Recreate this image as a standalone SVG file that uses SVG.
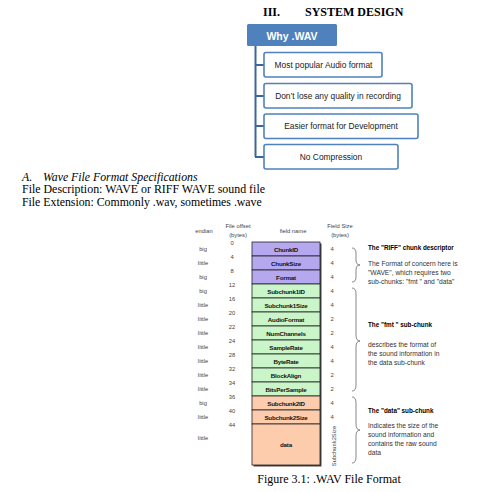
<svg xmlns="http://www.w3.org/2000/svg" width="485" height="492" viewBox="0 0 485 492">
<style>
.serif{font-family:"Liberation Serif","Times New Roman",serif;fill:#000}
.hd{font-family:"Liberation Serif",serif;font-weight:bold;font-size:12px}
.item{fill:#fff;stroke:#4f81bd;stroke-width:1.6}
.itxt{font-family:"Liberation Sans",Arial,sans-serif;font-size:8.4px;fill:#222;text-anchor:middle;dominant-baseline:central}
.small{font-family:"Liberation Sans",Arial,sans-serif;font-size:5.8px;fill:#444;dominant-baseline:central}
.fld{font-family:"Liberation Sans",Arial,sans-serif;font-size:6.2px;font-weight:bold;fill:#111;text-anchor:middle;dominant-baseline:central;letter-spacing:-0.2px}
.desc{font-family:"Liberation Sans",Arial,sans-serif;font-size:6.7px;fill:#333}
.dt{font-family:"Liberation Sans",Arial,sans-serif;font-size:6.3px;font-weight:bold;fill:#000}
.p{fill:#b6a8ef}.g{fill:#c9f5c9}.o{fill:#fcccad}
.cell{stroke:#222;stroke-width:0.8}
.brace{fill:none;stroke:#555;stroke-width:0.7}
.c{text-anchor:middle}
.sp{font-size:11.8px}
</style>

<g id="title">
<text class="hd" x="263" y="16">III.</text>
<text class="hd" x="305" y="16">SYSTEM DESIGN</text>
</g>

<g id="connectors">
<path d="M255.5,45 V157 M255,65 H264 M255,96 H264 M255,126 H264 M255,157 H264" fill="none" stroke="#3d679c" stroke-width="2"/>
</g>

<g id="why">
<rect x="247" y="24" width="90" height="22" rx="1.5" fill="#4f81bd"/>
<text x="292" y="35.5" font-family="Liberation Sans,Arial,sans-serif" font-size="10.5" font-weight="bold" fill="#fff" text-anchor="middle" dominant-baseline="central">Why .WAV</text>
</g>
<g id="item1"><rect class="item" x="264" y="52.5" width="118" height="24.5" rx="2"/><text class="itxt" x="323.5" y="65">Most popular Audio format</text></g>
<g id="item2"><rect class="item" x="264" y="83.5" width="148" height="24.5" rx="2"/><text class="itxt" x="338" y="96">Don’t lose any quality in recording</text></g>
<g id="item3"><rect class="item" x="264" y="114" width="154" height="24.5" rx="2"/><text class="itxt" x="341" y="126">Easier format for Development</text></g>
<g id="item4"><rect class="item" x="264" y="144.5" width="134" height="24.5" rx="2"/><text class="itxt" x="331" y="157">No Compression</text></g>

<g id="spec">
<text class="serif sp" x="22" y="180.5" font-style="italic">A.</text>
<text class="serif sp" x="43" y="180.5" font-style="italic">Wave File Format Specifications</text>
<text class="serif sp" x="22" y="193" textLength="243" lengthAdjust="spacingAndGlyphs">File Description: WAVE or RIFF WAVE sound file</text>
<text class="serif sp" x="22" y="205.5">File Extension: Commonly .wav, sometimes .wave</text>
</g>

<g id="headers">
<text class="small c" x="204" y="231">endian</text>
<text class="small c" x="238" y="226">File offset</text>
<text class="small c" x="238" y="235">(bytes)</text>
<text class="small c" x="293" y="231">field name</text>
<text class="small c" x="340" y="226">Field Size</text>
<text class="small c" x="340" y="235">(bytes)</text>
</g>

<g id="table">
<rect x="253.5" y="243.5" width="68" height="223" fill="#444"/>
<rect class="cell p" x="252" y="242" width="68" height="14"/>
<rect class="cell p" x="252" y="256" width="68" height="14"/>
<rect class="cell p" x="252" y="270" width="68" height="14"/>
<rect class="cell g" x="252" y="284" width="68" height="14"/>
<rect class="cell g" x="252" y="298" width="68" height="14"/>
<rect class="cell g" x="252" y="312" width="68" height="14"/>
<rect class="cell g" x="252" y="326" width="68" height="14"/>
<rect class="cell g" x="252" y="340" width="68" height="14"/>
<rect class="cell g" x="252" y="354" width="68" height="14"/>
<rect class="cell g" x="252" y="368" width="68" height="14"/>
<rect class="cell g" x="252" y="382" width="68" height="14"/>
<rect class="cell o" x="252" y="396" width="68" height="14"/>
<rect class="cell o" x="252" y="410" width="68" height="14"/>
<rect class="cell o" x="252" y="424" width="68" height="41"/>
<text class="fld" x="286" y="249">ChunkID</text>
<text class="fld" x="286" y="263">ChunkSize</text>
<text class="fld" x="286" y="277">Format</text>
<text class="fld" x="286" y="291">Subchunk1ID</text>
<text class="fld" x="286" y="305">Subchunk1Size</text>
<text class="fld" x="286" y="319">AudioFormat</text>
<text class="fld" x="286" y="333">NumChannels</text>
<text class="fld" x="286" y="347">SampleRate</text>
<text class="fld" x="286" y="361">ByteRate</text>
<text class="fld" x="286" y="375">BlockAlign</text>
<text class="fld" x="286" y="389">BitsPerSample</text>
<text class="fld" x="286" y="403">Subchunk2ID</text>
<text class="fld" x="286" y="417">Subchunk2Size</text>
<text class="fld" x="286" y="444">data</text>
</g>

<g id="endian">
<text class="small c" x="203" y="249">big</text>
<text class="small c" x="203" y="263">little</text>
<text class="small c" x="203" y="277">big</text>
<text class="small c" x="203" y="291">big</text>
<text class="small c" x="203" y="305">little</text>
<text class="small c" x="203" y="319">little</text>
<text class="small c" x="203" y="333">little</text>
<text class="small c" x="203" y="347">little</text>
<text class="small c" x="203" y="361">little</text>
<text class="small c" x="203" y="375">little</text>
<text class="small c" x="203" y="389">little</text>
<text class="small c" x="203" y="403">big</text>
<text class="small c" x="203" y="417">little</text>
<text class="small c" x="203" y="438">little</text>
</g>

<g id="offsets">
<text class="small c" x="232" y="243">0</text>
<text class="small c" x="232" y="257">4</text>
<text class="small c" x="232" y="271">8</text>
<text class="small c" x="232" y="285">12</text>
<text class="small c" x="232" y="299">16</text>
<text class="small c" x="232" y="313">20</text>
<text class="small c" x="232" y="327">22</text>
<text class="small c" x="232" y="341">24</text>
<text class="small c" x="232" y="355">28</text>
<text class="small c" x="232" y="369">32</text>
<text class="small c" x="232" y="383">34</text>
<text class="small c" x="232" y="397">36</text>
<text class="small c" x="232" y="411">40</text>
<text class="small c" x="232" y="425">44</text>
</g>

<g id="sizes">
<text class="small c" x="332" y="249">4</text>
<text class="small c" x="332" y="263">4</text>
<text class="small c" x="332" y="277">4</text>
<text class="small c" x="332" y="291">4</text>
<text class="small c" x="332" y="305">4</text>
<text class="small c" x="332" y="319">2</text>
<text class="small c" x="332" y="333">2</text>
<text class="small c" x="332" y="347">4</text>
<text class="small c" x="332" y="361">4</text>
<text class="small c" x="332" y="375">2</text>
<text class="small c" x="332" y="389">2</text>
<text class="small c" x="332" y="403">4</text>
<text class="small c" x="332" y="417">4</text>
<text class="small c" transform="translate(334,446) rotate(-90)" x="0" y="0">Subchunk2Size</text>
</g>

<g id="braces">
<path class="brace" d="M352,248 Q356,248 356,253 V260 Q356,265 360,265 Q356,265 356,270 V277 Q356,282 352,282"/>
<path class="brace" d="M352,288 Q356,288 356,294 V335 Q356,341 360,341 Q356,341 356,347 V385 Q356,391 352,391"/>
<path class="brace" d="M352,397 Q356,397 356,403 V424 Q356,430 360,430 Q356,430 356,436 V457 Q356,463 352,463"/>
</g>

<g id="descriptions">
<text class="dt" x="368" y="250">The "RIFF" chunk descriptor</text>
<text class="desc" x="368" y="266">The Format of concern here is</text>
<text class="desc" x="368" y="275">"WAVE", which requires two</text>
<text class="desc" x="368" y="284">sub-chunks: "fmt " and "data"</text>
<text class="dt" x="368" y="327">The "fmt " sub-chunk</text>
<text class="desc" x="368" y="347">describes the format of</text>
<text class="desc" x="368" y="356">the sound information in</text>
<text class="desc" x="368" y="365">the data sub-chunk</text>
<text class="dt" x="368" y="413">The "data" sub-chunk</text>
<text class="desc" x="368" y="428">Indicates the size of the</text>
<text class="desc" x="368" y="437">sound information and</text>
<text class="desc" x="368" y="446">contains the raw sound</text>
<text class="desc" x="368" y="455">data</text>
</g>

<g id="caption">
<text class="serif" x="329" y="483" font-size="12" text-anchor="middle">Figure 3.1: .WAV File Format</text>
</g>
</svg>
